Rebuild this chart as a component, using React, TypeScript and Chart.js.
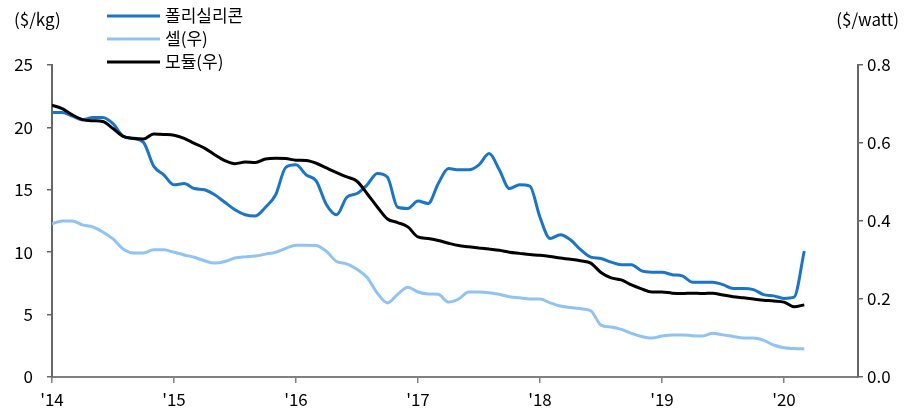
import React, { useEffect, useRef } from "react";
import { Chart, registerables } from "chart.js";

Chart.register(...registerables);

// Monthly observations, January 2014 through March 2020
const START_YEAR = 2014;
const MONTH_COUNT = 75;
const months: number[] = Array.from({ length: MONTH_COUNT }, (_, k) => START_YEAR + k / 12);

const yearTicks = [2014, 2015, 2016, 2017, 2018, 2019, 2020];

// Polysilicon spot price, $/kg (left axis)
const polysilicon = [
  21.2, 21.2, 20.9, 20.6, 20.8, 20.8, 20.3, 19.3, 19.1, 18.8, 16.9, 16.2,
  15.4, 15.5, 15.1, 15.0, 14.6, 14.0, 13.4, 13.0, 12.9, 13.6, 14.6, 16.8,
  17.0, 16.2, 15.7, 13.8, 13.0, 14.4, 14.7, 15.4, 16.3, 16.0, 13.6, 13.5,
  14.1, 13.9, 15.5, 16.7, 16.6, 16.6, 17.0, 17.9, 16.6, 15.1, 15.4, 15.3,
  12.8, 11.1, 11.4, 11.0, 10.2, 9.6, 9.5, 9.2, 9.0, 9.0, 8.5, 8.4,
  8.4, 8.2, 8.1, 7.6, 7.6, 7.6, 7.4, 7.1, 7.1, 7.0, 6.6, 6.5,
  6.3, 6.4, 10.1,
];

// Cell price, $/watt (right axis)
const cell = [
  0.393, 0.4, 0.4, 0.39, 0.385, 0.372, 0.354, 0.328, 0.318, 0.318, 0.326, 0.326,
  0.32, 0.313, 0.307, 0.298, 0.292, 0.296, 0.305, 0.308, 0.31, 0.315, 0.32, 0.33,
  0.338, 0.338, 0.337, 0.322, 0.296, 0.29, 0.276, 0.255, 0.215, 0.19, 0.212, 0.23,
  0.218, 0.213, 0.212, 0.192, 0.2, 0.218, 0.218, 0.216, 0.212, 0.206, 0.203, 0.2,
  0.2, 0.19, 0.182, 0.178, 0.175, 0.17, 0.133, 0.128, 0.122, 0.112, 0.104, 0.1,
  0.105, 0.108, 0.108, 0.106, 0.105, 0.112, 0.108, 0.104, 0.1, 0.1, 0.094, 0.082,
  0.075, 0.073, 0.072,
];

// Module price, $/watt (right axis)
const module = [
  0.697, 0.688, 0.672, 0.66, 0.657, 0.655, 0.637, 0.617, 0.612, 0.61, 0.623, 0.622,
  0.62, 0.612, 0.599, 0.587, 0.57, 0.555, 0.547, 0.551, 0.55, 0.559, 0.561, 0.56,
  0.556, 0.555, 0.548, 0.536, 0.524, 0.513, 0.502, 0.47, 0.436, 0.405, 0.396, 0.385,
  0.359, 0.355, 0.35, 0.343, 0.337, 0.334, 0.331, 0.328, 0.325, 0.32, 0.317, 0.314,
  0.312, 0.309, 0.305, 0.302, 0.298, 0.292, 0.268, 0.254, 0.249, 0.236, 0.226, 0.218,
  0.218, 0.215, 0.214, 0.215, 0.214, 0.215, 0.21, 0.206, 0.203, 0.2, 0.197, 0.195,
  0.192, 0.18, 0.185,
];

const FONT = '"Noto Sans CJK KR", "Noto Sans", sans-serif';

const toPoints = (vals: number[]) => vals.map((v, i) => ({ x: months[i], y: v }));

// Unit captions and the stacked legend in the top-left corner
const overlay = {
  id: "overlay",
  afterDraw(chart: any) {
    const { ctx } = chart;
    ctx.save();
    ctx.font = `17px ${FONT}`;
    ctx.fillStyle = "#000";
    ctx.textBaseline = "middle";
    ctx.textAlign = "left";
    ctx.fillText("($/kg)", 14, 20);
    ctx.textAlign = "right";
    ctx.fillText("($/watt)", 899, 20);
    ctx.textAlign = "left";
    chart.data.datasets.forEach((ds: any, i: number) => {
      const y = 16 + i * 23;
      ctx.strokeStyle = ds.borderColor;
      ctx.lineWidth = 3;
      ctx.beginPath();
      ctx.moveTo(107, y);
      ctx.lineTo(160, y);
      ctx.stroke();
      ctx.fillStyle = "#000";
      ctx.fillText(ds.label, 165, y);
    });
    ctx.restore();
  },
};

const lineStyle = {
  borderWidth: 3,
  pointRadius: 0,
  cubicInterpolationMode: "monotone" as const,
};

export default function App() {
  const canvasRef = useRef<HTMLCanvasElement | null>(null);

  useEffect(() => {
    if (!canvasRef.current) return;
    Chart.defaults.font.family = FONT;
    Chart.defaults.font.size = 17;
    Chart.defaults.color = "#000";

    const chart = new Chart(canvasRef.current, {
      type: "line",
      data: {
        datasets: [
          { label: "폴리실리콘", data: toPoints(polysilicon), borderColor: "#1C74C6", yAxisID: "y", order: 1, ...lineStyle },
          { label: "셀(우)", data: toPoints(cell), borderColor: "#8EC3F2", yAxisID: "y1", order: 2, ...lineStyle },
          { label: "모듈(우)", data: toPoints(module), borderColor: "#000000", yAxisID: "y1", order: 0, ...lineStyle },
        ],
      },
      options: {
        responsive: false,
        animation: false,
        layout: { padding: { top: 65, left: 0, right: 0, bottom: 0 } },
        plugins: { legend: { display: false }, tooltip: { enabled: false } },
        scales: {
          x: {
            type: "linear",
            min: 2014,
            max: 2020.607,
            afterBuildTicks: (scale: any) => {
              scale.ticks = yearTicks.map((v) => ({ value: v }));
            },
            afterFit: (scale: any) => {
              scale.height = 31;
            },
            ticks: {
              callback: (v: any) => "'" + String(v).slice(2),
              maxRotation: 0,
              padding: 6,
            },
            grid: { display: true, drawOnChartArea: false, drawTicks: true, tickLength: 6, color: "#808080", lineWidth: 1.5 },
            border: { display: true, color: "#808080", width: 2 },
          },
          y: {
            position: "left",
            min: 0,
            max: 25,
            ticks: { stepSize: 5, padding: 14 },
            afterFit: (scale: any) => {
              scale.width = 52;
            },
            grid: { display: true, drawOnChartArea: false, drawTicks: true, tickLength: 5, color: "#666666", lineWidth: 1.5 },
            border: { display: true, color: "#666666", width: 2 },
          },
          y1: {
            position: "right",
            min: 0,
            max: 0.8,
            ticks: {
              stepSize: 0.2,
              padding: 4,
              callback: (v: any) => Number(v).toFixed(1),
            },
            afterFit: (scale: any) => {
              scale.width = 54;
            },
            grid: { display: true, drawOnChartArea: false, drawTicks: true, tickLength: 5, color: "#666666", lineWidth: 1.5 },
            border: { display: true, color: "#666666", width: 2 },
          },
        },
      },
      plugins: [overlay],
    });

    return () => chart.destroy();
  }, []);

  return (
    <div style={{ position: "fixed", left: 0, top: 0, width: 912, height: 408, background: "#fff" }}>
      <canvas ref={canvasRef} width={912} height={408} />
    </div>
  );
}
